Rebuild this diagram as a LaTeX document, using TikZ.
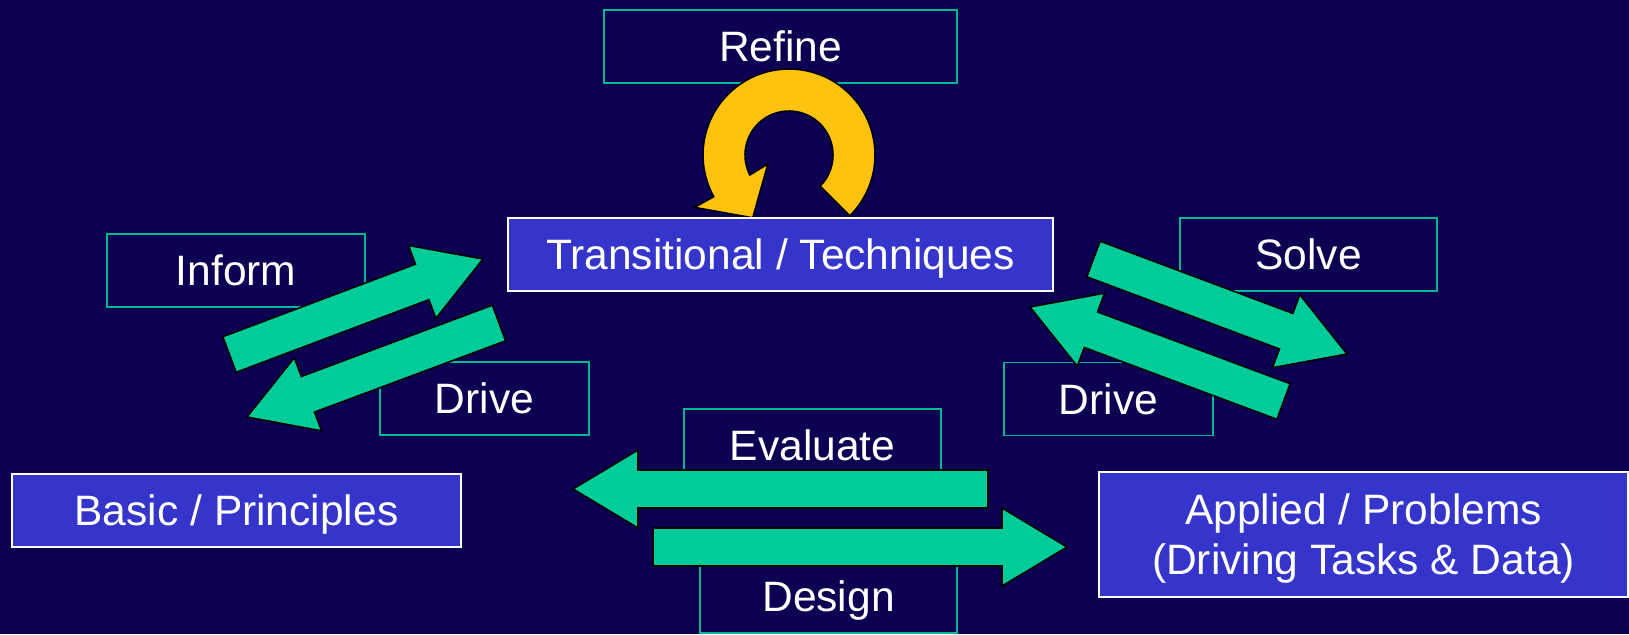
\documentclass[tikz,border=0pt]{standalone}
\usepackage{fontspec}
\setmainfont{Liberation Sans}
\usetikzlibrary{calc}

\definecolor{navy}{HTML}{0C0052}
\definecolor{boxblue}{HTML}{3535CC}
\definecolor{flowgreen}{HTML}{00CC99}
\definecolor{edgeteal}{HTML}{00B894}
\definecolor{loopyellow}{HTML}{FFC20E}

% block arrow from tail centre #1 to tip #2
\newcommand{\fatarrow}[2]{%
  \coordinate (head) at ($(#2)!0.65cm!(#1)$);
  \draw[fatarrow] ($(#1)!0.19cm!90:(#2)$) -- ($(head)!0.19cm!90:(#2)$)
    -- ($(head)!0.39cm!90:(#2)$) -- (#2) -- ($(head)!0.39cm!-90:(#2)$)
    -- ($(head)!0.19cm!-90:(#2)$) -- ($(#1)!0.19cm!-90:(#2)$) -- cycle;}

\begin{document}
\begin{tikzpicture}[
    txt/.style={text=white, font=\fontsize{12.1}{14.2}\selectfont, inner sep=0pt},
    verb/.style={txt, draw=edgeteal, line width=0.5pt, minimum height=0.73cm, text height=8.6pt, text depth=0pt},
    area/.style={txt, draw=white, fill=boxblue, line width=0.6pt, minimum height=0.73cm, text height=8.6pt, text depth=0pt},
    fatarrow/.style={fill=flowgreen, draw=black, line width=0.45pt},
    loop/.style={fill=loopyellow, draw=black, line width=0.45pt},
]

        % Background
        \fill[navy] (0,0) rectangle (16.29,6.34);
        \useasboundingbox (0,0) rectangle (16.29,6.34);

        % Define the coordinates of the box centres
        \coordinate (cRefine) at (7.805,5.875);
        \coordinate (cTrans) at (7.805,3.795);
        \coordinate (cInform) at (2.36,3.635);
        \coordinate (cDriveL) at (4.845,2.355);
        \coordinate (cSolve) at (13.085,3.795);
        \coordinate (cDriveR) at (11.085,2.35);
        \coordinate (cEval) at (8.125,1.885);
        \coordinate (cDesign) at (8.285,0.375);
        \coordinate (cBasic) at (2.365,1.235);
        \coordinate (cApplied) at (13.635,0.995);

        % Arrow tails and tips
        \coordinate (informTail) at (2.295,2.795);
        \coordinate (informTip) at (4.83,3.75);
        \coordinate (driveLTail) at (4.99,3.11);
        \coordinate (driveLTip) at (2.47,2.17);
        \coordinate (solveTail) at (10.935,3.75);
        \coordinate (solveTip) at (13.47,2.80);
        \coordinate (driveRTail) at (12.835,2.325);
        \coordinate (driveRTip) at (10.30,3.27);
        \coordinate (evalTail) at (9.88,1.45);
        \coordinate (evalTip) at (5.73,1.45);
        \coordinate (designTail) at (6.53,0.87);
        \coordinate (designTip) at (10.67,0.87);

        % Verb boxes
        \node[verb, minimum width=3.53cm] (refine) at (cRefine) {Refine};
        \node[verb, minimum width=2.58cm] (inform) at (cInform) {Inform};
        \node[verb, minimum width=2.09cm] (driveL) at (cDriveL) {Drive};
        \node[verb, minimum width=2.57cm] (solve) at (cSolve) {Solve};
        \node[verb, minimum width=2.09cm] (driveR) at (cDriveR) {Drive};
        \node[verb, minimum width=2.57cm] (evaluate) at (cEval) {Evaluate};
        \node[verb, minimum width=2.57cm] (design) at (cDesign) {Design};

        % Refine loop
        \begin{scope}[shift={(7.89,4.79)}]
            \draw[loop] (-45:0.86) arc[start angle=-45, end angle=209, radius=0.86]
                -- (209:1.08) -- (240:0.725) -- (203:0.23) -- (207:0.44)
                arc[start angle=207, end angle=-45, radius=0.44] -- cycle;
        \end{scope}

        % Research areas
        \node[area, minimum width=5.45cm] (trans) at (cTrans) {Transitional / Techniques};
        \node[area, minimum width=4.49cm] (basic) at (cBasic) {Basic / Principles};
        \node[area, minimum width=5.29cm, minimum height=1.25cm] (applied) at (cApplied) {};
        \node[txt, align=center] (appliedText) at ($(cApplied)+(0,-0.04)$) {Applied / Problems\\(Driving Tasks \& Data)};

        % Flow arrows
        \fatarrow{informTail}{informTip}
        \fatarrow{driveLTail}{driveLTip}
        \fatarrow{solveTail}{solveTip}
        \fatarrow{driveRTail}{driveRTip}
        \fatarrow{evalTail}{evalTip}
        \fatarrow{designTail}{designTip}

    \end{tikzpicture}
\end{document}
